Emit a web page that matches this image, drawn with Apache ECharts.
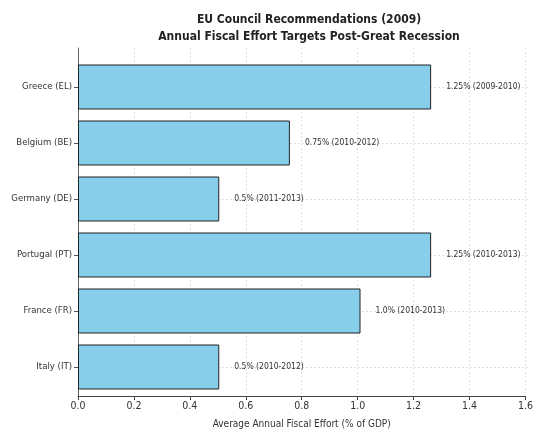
<!DOCTYPE html>
<html>
<head>
<meta charset="utf-8">
<script src="https://cdn.jsdelivr.net/npm/echarts@6/dist/echarts.min.js"></script>
<style>
  html, body { margin: 0; padding: 0; background: #fff; }
  #chart { width: 536px; height: 434px; }
</style>
</head>
<body>
<div id="chart"></div>
<script>
// countries, top to bottom
var countries = ['Greece (EL)', 'Belgium (BE)', 'Germany (DE)', 'Portugal (PT)', 'France (FR)', 'Italy (IT)'];
var effort = [1.25, 0.75, 0.5, 1.25, 1.0, 0.5];
var periods = ['2009-2010', '2010-2012', '2011-2013', '2010-2013', '2010-2013', '2010-2012'];
var effortText = ['1.25%', '0.75%', '0.5%', '1.25%', '1.0%', '0.5%'];

var FONT = '"DejaVu Sans Condensed", "DejaVu Sans", sans-serif';
var chart = echarts.init(document.getElementById('chart'));

var option = {
  animation: false,
  textStyle: { fontFamily: FONT },
  title: {
    text: 'EU Council Recommendations (2009)\nAnnual Fiscal Effort Targets Post-Great Recession',
    left: 304,
    top: 6,
    textAlign: 'center',
    textStyle: { fontFamily: FONT, fontSize: 12, fontWeight: 'bold', color: '#222', lineHeight: 17 }
  },
  grid: [
    // bars: category centres from first to last
    { left: 78, right: 6, top: 87, bottom: 67 },
    // full frame for axes and vertical grid
    { left: 78, right: 6, top: 48, bottom: 30 }
  ],
  xAxis: [
    {
      gridIndex: 0, type: 'value', min: 0, max: 1.6, interval: 0.2,
      show: false
    },
    {
      gridIndex: 1, type: 'value', min: 0, max: 1.6, interval: 0.2,
      axisLine: { show: true, lineStyle: { color: '#444', width: 1 } },
      axisTick: { show: true, length: 4, lineStyle: { color: '#444' } },
      axisLabel: {
        color: '#333', fontSize: 10.5, margin: 5,
        formatter: function (v) { return v.toFixed(1); }
      },
      splitLine: { show: true, lineStyle: { color: '#d8d8d8', type: [2, 2], width: 0.8 } },
      name: 'Average Annual Fiscal Effort (% of GDP)',
      nameLocation: 'middle',
      nameGap: 23,
      nameTextStyle: { color: '#333', fontSize: 10 }
    }
  ],
  yAxis: [
    {
      gridIndex: 0, type: 'category', data: countries, inverse: true,
      boundaryGap: false,
      axisLine: { show: false },
      axisTick: { show: true, length: 4, lineStyle: { color: '#555' } },
      axisLabel: { color: '#333', fontSize: 9.5, margin: 6 },
      splitLine: { show: true, lineStyle: { color: '#d8d8d8', type: [2, 2], width: 0.8 } }
    },
    {
      gridIndex: 1, type: 'value', min: 0, max: 1,
      axisLine: { show: true, lineStyle: { color: '#666', width: 1 } },
      axisTick: { show: false },
      axisLabel: { show: false },
      splitLine: { show: false }
    }
  ],
  series: [{
    type: 'bar',
    xAxisIndex: 0,
    yAxisIndex: 0,
    data: effort,
    barWidth: 45,
    clip: false,
    itemStyle: { color: '#87CEEB', borderColor: '#222', borderWidth: 1 },
    label: {
      show: true,
      position: 'right',
      distance: 15,
      color: '#333',
      fontSize: 8.5,
      fontFamily: FONT,
      formatter: function (p) {
        return effortText[p.dataIndex] + ' (' + periods[p.dataIndex] + ')';
      }
    }
  }]
};

chart.setOption(option);
</script>
</body>
</html>
